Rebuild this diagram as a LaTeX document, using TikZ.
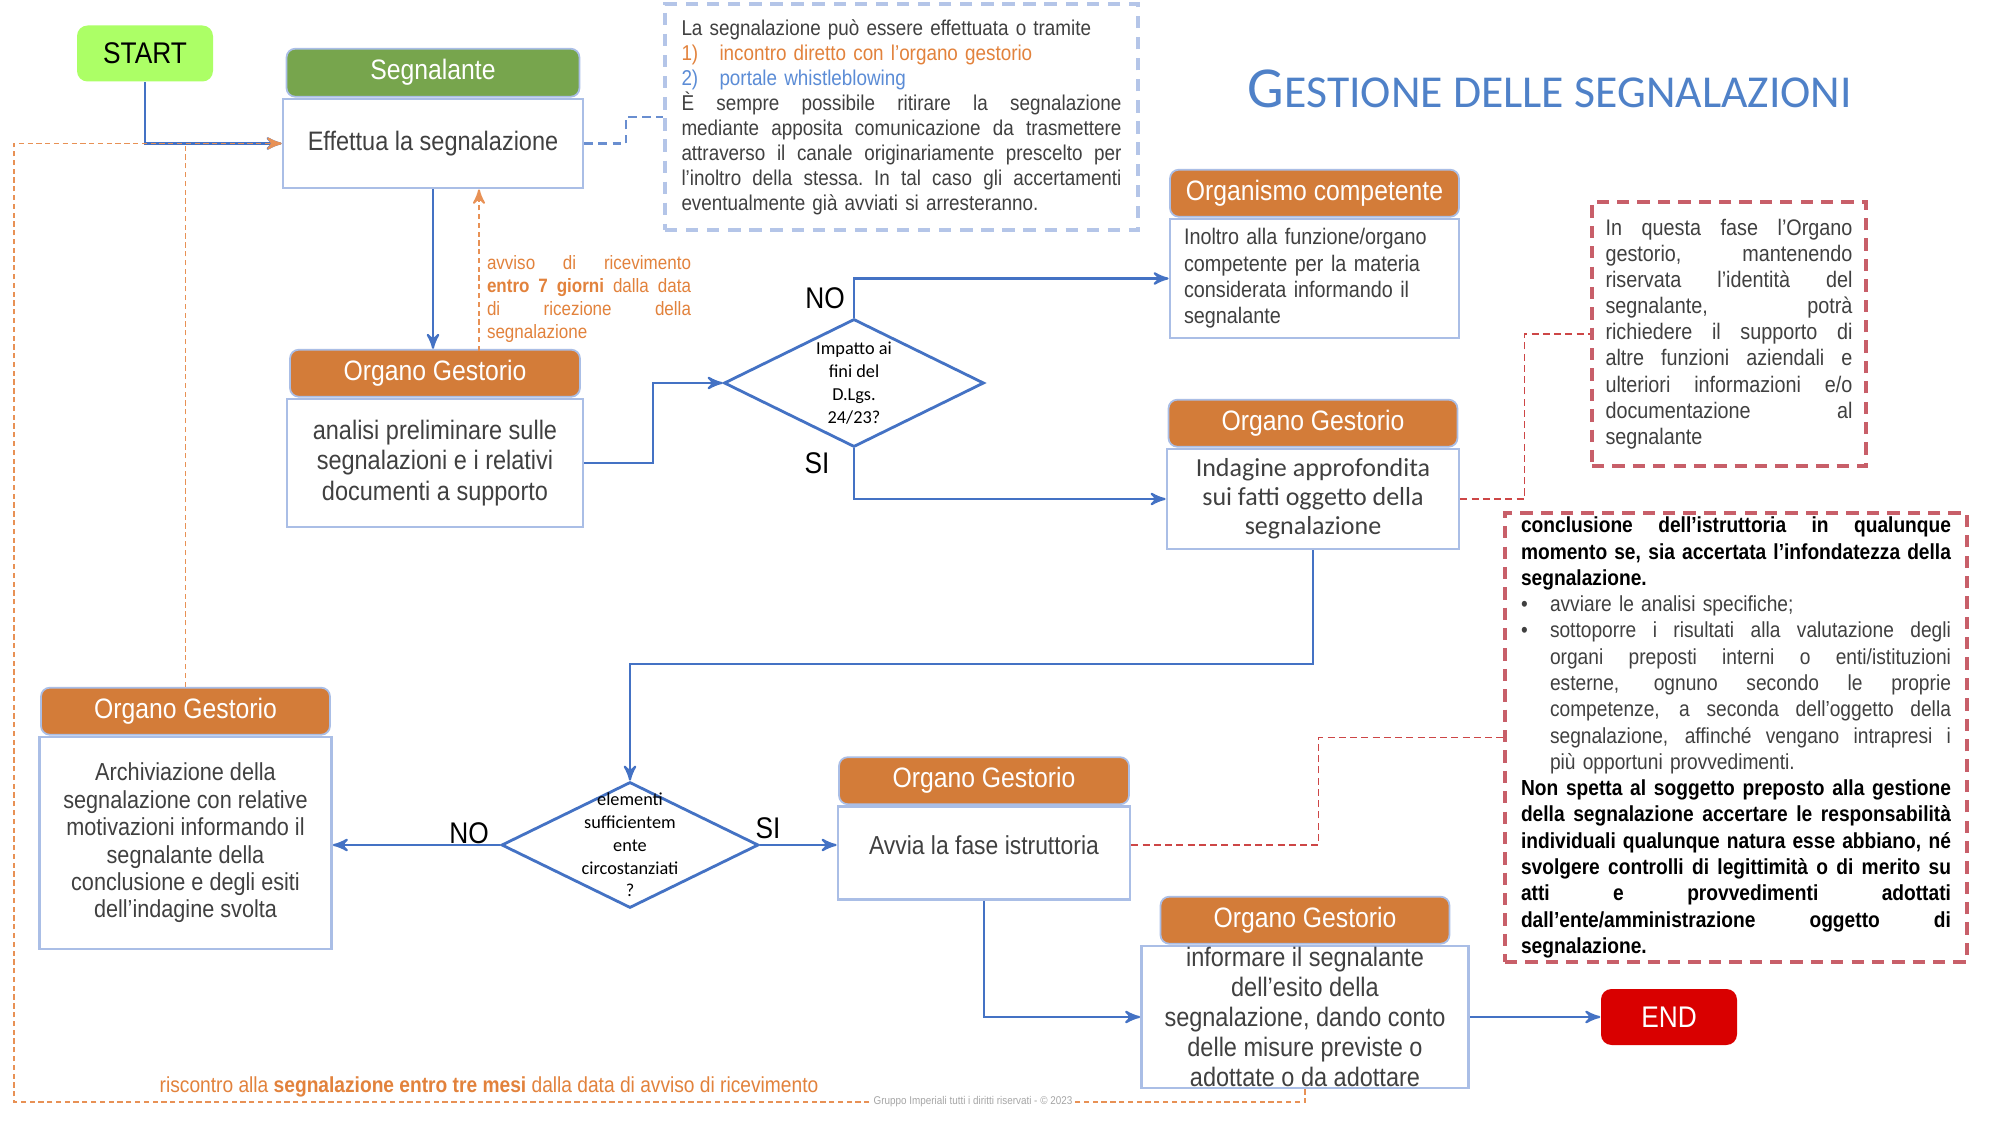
\documentclass[tikz,border=0pt]{standalone}
\usepackage{fontspec}
\setmainfont{Liberation Sans}[FakeStretch=0.88]
\newfontfamily\calfont{Carlito}
\usetikzlibrary{arrows,positioning,shapes.geometric}

\definecolor{flowblue}{RGB}{68,114,196}
\definecolor{cardline}{RGB}{170,190,230}
\definecolor{hdrorange}{RGB}{211,124,57}
\definecolor{hdrgreen}{RGB}{119,165,77}
\definecolor{startgreen}{RGB}{172,255,102}
\definecolor{endred}{RGB}{217,0,0}
\definecolor{txtgray}{RGB}{64,64,64}
\definecolor{infoblue}{RGB}{180,197,232}
\definecolor{notered}{RGB}{200,95,105}
\definecolor{linkred}{RGB}{205,70,70}
\definecolor{ackorange}{RGB}{232,145,85}
\definecolor{labelorange}{RGB}{226,130,60}
\definecolor{titleblue}{RGB}{79,129,200}
\definecolor{itemblue}{RGB}{91,140,214}

\newcommand{\fsz}[2]{\fontsize{#1}{#2}\selectfont}
\newcommand{\stretchsp}{\spaceskip=.245em plus 1em minus .03em\relax}
\newcommand{\jline}[1]{\makebox[\hsize][s]{\stretchsp#1}\par}
\newcommand{\iline}[1]{\hspace*{2.9mm}\makebox[\dimexpr\hsize-2.9mm\relax][s]{\stretchsp#1}\par}
\newcommand{\bline}[1]{\makebox[2.9mm][l]{\textbullet}\makebox[\dimexpr\hsize-2.9mm\relax][s]{\stretchsp#1}\par}

\begin{document}
\begin{tikzpicture}[x=0.1mm,y=-0.1mm,>=stealth',
    flow/.style={->,draw=flowblue,line width=0.6pt},
    card/.style={draw=cardline,line width=0.8pt,fill=white,text=txtgray,align=center,inner sep=1pt},
    hdr/.style={rounded corners=2.5pt,fill=hdrorange,draw=cardline,line width=0.5pt,text=white,
        minimum height=4.7mm,inner sep=0pt,font=\fsz{8}{9}},
    termnode/.style={rounded corners=3pt,minimum width=13.6mm,minimum height=5.6mm,font=\fsz{8.5}{10}},
    dec/.style={diamond,draw=flowblue,line width=0.8pt,inner sep=0pt},
    dectext/.style={font=\calfont\fsz{5.2}{6.5},align=center,inner sep=0pt},
    lbl/.style={font=\fsz{8.5}{10},text=black,inner sep=0pt},
    infobox/.style={draw=infoblue,line width=1.1pt,dash pattern=on 3.5pt off 2.5pt,align=left,text=txtgray},
    notebox/.style={draw=notered,line width=1.1pt,dash pattern=on 3.5pt off 2.3pt,align=left,text=txtgray},
    infolink/.style={draw=flowblue!80,line width=0.6pt,dash pattern=on 2.5pt off 1.5pt},
    notelink/.style={draw=linkred,line width=0.5pt,dash pattern=on 2pt off 1.2pt},
    ackline/.style={draw=ackorange,line width=0.55pt,dash pattern=on 1.5pt off 1pt}]

\fill[white] (0,0) rectangle (2000,1125);

% title
\node[anchor=base,text=titleblue,font=\calfont,inner sep=0pt] (title) at (1550,108)
    {\fsz{16.5}{18}G\fsz{13}{15}ESTIONE DELLE SEGNALAZIONI};

% start / end
\node[termnode,fill=startgreen,text=black] (start) at (145,53.5) {START};
\node[termnode,fill=endred,text=white] (finish) at (1669,1017) {END};

% cards
\node[card,minimum width=30mm,minimum height=8.9mm,font=\fsz{7.6}{8.7}] (segnB) at (433,143.5)
    {Effettua la segnalazione};
\node[hdr,fill=hdrgreen,minimum width=29.3mm,minimum height=4.8mm,above=0pt of segnB] (segnH) {Segnalante};

\node[card,minimum width=29.6mm,minimum height=12.8mm,font=\fsz{7.6}{8.7}] (analisiB) at (435,463)
    {analisi preliminare sulle\\segnalazioni e i relativi\\documenti a supporto};
\node[hdr,minimum width=29mm,above=0pt of analisiB] (analisiH) {Organo Gestorio};

\node[card,minimum width=28.9mm,minimum height=11.9mm,text width=26.1mm,align=left,font=\fsz{6.4}{7.5}]
    (organB) at (1314.5,278.5)
    {Inoltro alla funzione/organo\\competente per la materia\\considerata informando il\\segnalante};
\node[hdr,minimum width=28.9mm,above=0pt of organB] (organH) {Organismo competente};

\node[card,minimum width=29.2mm,minimum height=10mm,font=\calfont\fsz{7.4}{8.25}] (indagB) at (1313,499)
    {Indagine approfondita\\sui fatti oggetto della\\segnalazione};
\node[hdr,minimum width=28.9mm,above=0pt of indagB] (indagH) {Organo Gestorio};

\node[card,minimum width=29.2mm,minimum height=21.2mm,font=\fsz{7}{7.8}] (archB) at (185.5,843)
    {Archiviazione della\\segnalazione con relative\\motivazioni informando il\\segnalante della\\conclusione e degli esiti\\dell'indagine svolta};
\node[hdr,minimum width=28.9mm,above=0pt of archB] (archH) {Organo Gestorio};

\node[card,minimum width=29.2mm,minimum height=9.3mm] (avviaB) at (984,853) {};
\node[text=txtgray,font=\fsz{7.4}{8.5},inner sep=0pt] (avviaT) at (984,845) {Avvia la fase istruttoria};
\node[hdr,minimum width=29mm,above=0pt of avviaB] (avviaH) {Organo Gestorio};

\node[card,minimum width=32.7mm,minimum height=14.2mm] (infB) at (1305,1017) {};
\node[text=txtgray,font=\fsz{7.6}{8.5},align=center,inner sep=0pt] (infT) at (infB.center)
    {informare il segnalante\\dell'esito della\\segnalazione, dando conto\\delle misure previste o\\adottate o da adottare};
\node[hdr,minimum width=28.9mm,above=0pt of infB] (infH) {Organo Gestorio};

% decisions
\node[dec,minimum width=26mm,minimum height=12.8mm] (dec1) at (854,383) {};
\node[dectext] (dec1T) at (dec1.center) {Impatto ai\\fini del\\D.Lgs.\\24/23?};
\node[dec,minimum width=25.7mm,minimum height=12.6mm] (dec2) at (630,845) {};
\node[dectext] (dec2T) at (dec2.center) {elementi\\sufficientem\\ente\\circostanziati\\?};

\node[lbl] (no1) at (825,298) {NO};
\node[lbl] (si1) at (817,463) {SI};
\node[lbl] (no2) at (469,833) {NO};
\node[lbl] (si2) at (768,828) {SI};

% notes
\node[infobox,minimum width=47.3mm,minimum height=22.6mm,text width=44mm,inner xsep=1.65mm,inner ysep=0.6mm,
    font=\fsz{6.1}{7.1}] (info) at (901.5,117)
    {La segnalazione può essere effettuata o tramite\par
     {\color{labelorange}\makebox[3.8mm][l]{1)}incontro diretto con l’organo gestorio\par}
     {\color{itemblue}\makebox[3.8mm][l]{2)}portale whistleblowing\par}
     \jline{È sempre possibile ritirare la segnalazione}
     \jline{mediante apposita comunicazione da trasmettere}
     \jline{attraverso il canale originariamente prescelto per}
     \jline{l’inoltro della stessa. In tal caso gli accertamenti}
     eventualmente già avviati si arresteranno.};

\node[notebox,minimum width=27.4mm,minimum height=26.4mm,text width=24.7mm,inner xsep=1.35mm,inner ysep=0.5mm,
    font=\fsz{6.4}{7.45}] (note1) at (1729,334)
    {\jline{In questa fase l’Organo}
     \jline{gestorio, mantenendo}
     \jline{riservata l’identità del}
     \jline{segnalante, potrà}
     \jline{richiedere il supporto di}
     \jline{altre funzioni aziendali e}
     \jline{ulteriori informazioni e/o}
     \jline{documentazione al}
     segnalante};

\node[notebox,minimum width=46.2mm,minimum height=44.9mm,text width=43mm,inner xsep=1.6mm,inner ysep=0pt,
    font=\fsz{6.2}{7.48}] (note2) at (1736,737.5)
    {{\bfseries\color{black}
     \jline{conclusione dell’istruttoria in qualunque}
     \jline{momento se, sia accertata l’infondatezza della}
     segnalazione.\par}
     \makebox[2.9mm][l]{\textbullet}avviare le analisi specifiche;\par
     \bline{sottoporre i risultati alla valutazione degli}
     \iline{organi preposti interni o enti/istituzioni}
     \iline{esterne, ognuno secondo le proprie}
     \iline{competenze, a seconda dell’oggetto della}
     \iline{segnalazione, affinché vengano intrapresi i}
     \hspace*{2.9mm}più opportuni provvedimenti.\par
     {\bfseries\color{black}
     \jline{Non spetta al soggetto preposto alla gestione}
     \jline{della segnalazione accertare le responsabilità}
     \jline{individuali qualunque natura esse abbiano, né}
     \jline{svolgere controlli di legittimità o di merito su}
     \jline{atti e provvedimenti adottati}
     \jline{dall’ente/amministrazione oggetto di}
     segnalazione.\par}};

% orange labels
\node[text width=20.4mm,align=left,text=labelorange,font=\fsz{5.5}{6.5},inner sep=0pt] (ackT) at (589,299)
    {\jline{avviso di ricevimento}
     \jline{\textbf{entro 7 giorni} dalla data}
     \jline{di ricezione della}
     segnalazione};
\node[text=labelorange,font=\fsz{6.2}{7},inner sep=0pt] (replyT) at (489,1087)
    {riscontro alla \textbf{segnalazione entro tre mesi} dalla data di avviso di ricevimento};

% flow
\draw[flow] (start.south) |- (segnB.west);
\draw[flow] (segnB.south) -- (segnB.south |- analisiH.north);
\draw[flow] (analisiB.east) -- ++(69,0) |- (dec1.west);
\draw[flow] (dec1.north) |- (organB.west);
\draw[flow] (dec1.south) |- (indagB.west);
\draw[flow] (indagB.south) -- ++(0,114) -| (dec2.north);
\draw[flow] (dec2.west) -- (dec2.west -| archB.east);
\draw[flow] (dec2.east) -- (dec2.east -| avviaB.west);
\draw[flow] (avviaB.south) |- (infB.west);
\draw[flow] (infB.east) -- (finish.west);

% links to the notes
\draw[infolink] (segnB.east) -- ++(42,0) |- (info.west);
\draw[notelink] (indagB.east) -- ++(64,0) |- (note1.west);
\draw[notelink] (avviaB.east |- avviaT) -- ++(187,0) |- (note2.west);

% feedback to the segnalante
\coordinate (ackFoot) at (479,351);
\coordinate (loopCorner) at (14,1102);
\draw[ackline,->] (ackFoot) -- (ackFoot |- segnB.south);
\draw[ackline,->] (infB.south) |- (loopCorner) |- (segnB.west);
\draw[ackline] (archH.north) -- (archH.north |- segnB.west);

\node[text=gray!70,fill=white,font=\fsz{3.2}{4},inner sep=0.6pt] (foot) at (973,1102)
    {Gruppo Imperiali tutti i diritti riservati - © 2023};

\end{tikzpicture}
\end{document}
